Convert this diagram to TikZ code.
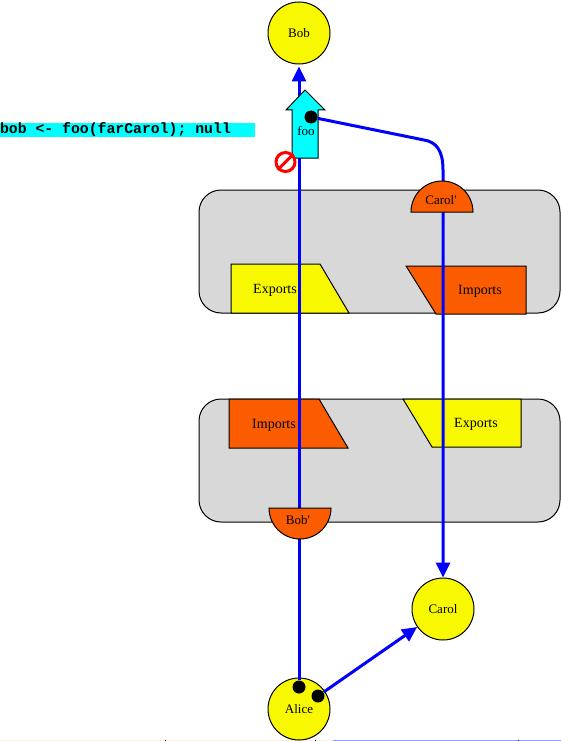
\documentclass[tikz,border=0pt]{standalone}
\usepackage{fontspec}
\setmainfont{Liberation Serif}
\setmonofont{Liberation Mono}
\usetikzlibrary{arrows.meta}
\definecolor{vatYellow}{HTML}{F8F800}
\definecolor{portOrange}{HTML}{FC5C00}
\definecolor{hostGray}{HTML}{D8D8D8}
\definecolor{msgCyan}{HTML}{00FFFF}
\newcommand{\MsgGap}{\hspace{8.88pt}}

\begin{document}
\begin{tikzpicture}[x=1pt,y=-1pt,>={Triangle[width=14pt,length=15pt]},line width=1pt,
 every node/.style={font=\fontsize{13}{13}\selectfont,inner sep=0pt},
 obj/.style={circle,draw,fill=vatYellow,minimum size=62pt},
 host/.style={rectangle,draw,fill=hostGray,rounded corners=22pt,minimum width=361pt,minimum height=123pt},
 exptab/.style={draw,fill=vatYellow},
 imptab/.style={draw,fill=portOrange},
 tablabel/.style={font=\fontsize{14}{14}\selectfont,yshift=-1.5pt},
 dot/.style={circle,fill=black,minimum size=13pt},
 wire/.style={draw=blue,line width=3pt}]
\useasboundingbox (0,0) rectangle (561,741);
\fill[fill=black!4!orange!12] (0,740) rectangle (333,741);
\fill[fill=blue!40] (333,740) rectangle (561,741);
\foreach \tickx in {165,315,518} \fill (\tickx,740) rectangle +(1,1);
\node[anchor=west,outer sep=0pt,fill=msgCyan,text width=255pt,minimum height=14pt,font=\fontsize{14.8}{14.8}\selectfont\ttfamily\bfseries] (msgBar) at (0,130) {bob\MsgGap<-\MsgGap foo(farCarol);\MsgGap null};
\node[host] (hostUp) at (379.5,251.5) {};
\node[host] (hostDown) at (379.5,460.5) {};
\draw[exptab] (231,264)--(320,264)--(349,313)--(231,313)--cycle;
\draw[imptab] (406,266)--(526,266)--(526,314)--(436,314)--cycle;
\draw[imptab] (229,399)--(319,399)--(348,448)--(229,448)--cycle;
\draw[exptab] (403,399)--(521,399)--(521,447)--(432,447)--cycle;
\node[tablabel] (expUp) at (275,289) {Exports};
\node[tablabel] (impUp) at (480,290) {Imports};
\node[tablabel] (impDown) at (274,424) {Imports};
\node[tablabel] (expDown) at (476,423) {Exports};
\node[obj] (bob) at (299,33) {Bob};
\node[obj] (carol) at (443,609) {Carol};
\node[obj] (alice) at (299,709) {Alice};
\node[dot] (aliceDotB) at (299,687) {};
\node[dot] (aliceDotC) at (318,696) {};
\draw[wire,->,shorten >=2pt] (aliceDotB)--(bob);
\draw[fill=msgCyan] (305,90)--(325,110)--(318,110)--(318,158)--(292,158)--(292,110)--(286,110)--cycle;
\node (foo) at (306,131) {foo};
\node[dot] (fooDot) at (311,117) {};
\coordinate (bendIn) at (424,140);
\coordinate (bendOut) at (443,170);
\draw[wire,->] (fooDot)--(bendIn) .. controls (436,142) and (443,150) .. (bendOut)--(carol.north);
\draw[wire,->] (aliceDotC)--(carol);
\draw[imptab] (411,212) arc[start angle=180,end angle=360,radius=31]--cycle;
\draw[imptab] (269,508) arc[start angle=180,end angle=0,radius=31]--cycle;
\node (carolP) at (441,200) {Carol\textquotesingle};
\node (bobP) at (298,520) {Bob\textquotesingle};
\node[circle,draw=red,line width=3pt,fill=white,minimum size=19pt] (noEntry) at (285.5,162) {};
\draw[red,line width=3pt] (noEntry.45)--(noEntry.225);
\end{tikzpicture}
\end{document}
